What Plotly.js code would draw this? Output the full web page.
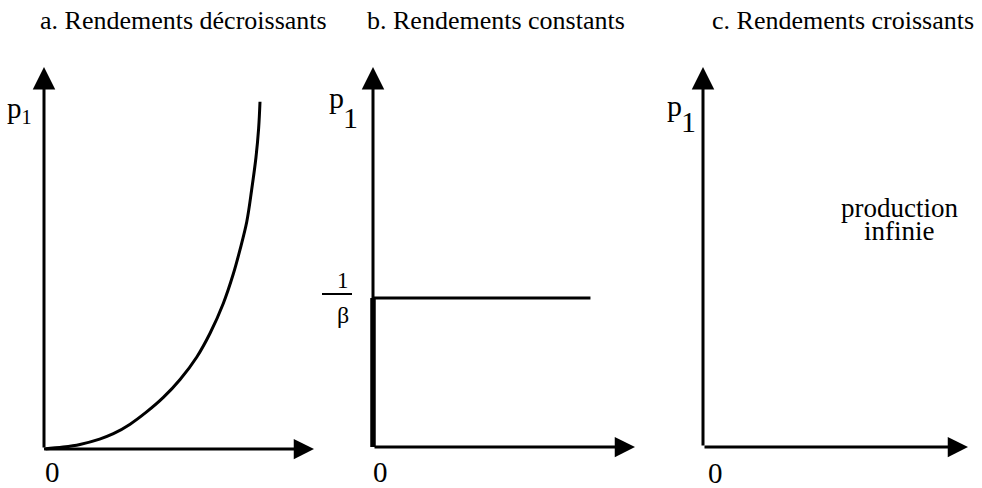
<!DOCTYPE html>
<html>
<head>
<meta charset="utf-8">
<script src="https://cdn.plot.ly/plotly-3.0.1.min.js"></script>
<style>html,body{margin:0;padding:0;background:#fff;}</style>
</head>
<body>
<div id="chart" style="width:982px;height:488px;"></div>
<script>
// Supply of good 1 as a function of its price p1, under three kinds of returns.
// Quantity runs along the horizontal axis, price p1 up the vertical one (both 0..10).

// a. decreasing returns: convex supply curve
const decrQ = [0, 0.71, 1.33, 2.06, 2.57, 3.19, 3.80, 4.42, 5.04, 5.66, 6.15, 6.64, 7.01, 7.26, 7.51, 7.69, 7.85, 7.95, 8.00];
const decrP = [0, 0.05, 0.12, 0.26, 0.40, 0.65, 0.97, 1.35, 1.82, 2.41, 3.03, 3.81, 4.58, 5.22, 5.95, 6.78, 7.63, 8.40, 9.09];

// b. constant returns: price fixed at 1/beta, zero output below it
const invBeta = 3.92;
const constQ = [0, 8.3];
const constP = [invBeta, invBeta];
const zeroQ = [0, 0];
const zeroP = [0, invBeta];

// axis length (arrow tip) in data units
const axisMax = 10;

const panelTitles = ['a. Rendements décroissants', 'b. Rendements constants', 'c. Rendements croissants'];
const priceLabel = 'p';
const priceIndex = '1';
const originLabel = '0';
const fracNum = '1';
const fracDen = 'β';
const infiniteLines = ['production', 'infinie'];

// ---- layout geometry (pixels) ----
const W = 982, H = 488;
const FONT = 'Liberation Serif, Times New Roman, serif';
const panels = [
  {left: 0,   right: 330, ox: 44,  oy: 449, tx: 314, ty: 67},
  {left: 335, right: 650, ox: 373, oy: 447, tx: 635, ty: 67},
  {left: 655, right: 982, ox: 703, oy: 447, tx: 968, ty: 67}
];

const layout = {
  width: W, height: H,
  margin: {l: 0, r: 0, t: 0, b: 0, pad: 0},
  paper_bgcolor: '#fff', plot_bgcolor: 'rgba(0,0,0,0)',
  showlegend: false,
  font: {family: FONT, color: '#000'},
  annotations: [],
  shapes: []
};

panels.forEach((p, i) => {
  const n = i === 0 ? '' : String(i + 1);
  const sx = axisMax / (p.tx - p.ox);
  const sy = axisMax / (p.oy - p.ty);
  layout['xaxis' + n] = {
    domain: [p.left / W, p.right / W],
    range: [(p.left - p.ox) * sx, (p.right - p.ox) * sx],
    visible: false, fixedrange: true, anchor: 'y' + n
  };
  layout['yaxis' + n] = {
    domain: [0, 1],
    range: [(p.oy - H) * sy, p.oy * sy],
    visible: false, fixedrange: true, anchor: 'x' + n
  };
  // the two axes with arrowheads
  const arrow = {
    xref: 'x' + n, yref: 'y' + n, axref: 'x' + n, ayref: 'y' + n,
    text: '', showarrow: true, arrowhead: 2, arrowwidth: 3,
    arrowcolor: '#000', ax: 0, ay: 0
  };
  layout.annotations.push(Object.assign({}, arrow, {x: axisMax, y: 0, arrowsize: 1.35}));
  layout.annotations.push(Object.assign({}, arrow, {x: 0, y: axisMax, arrowsize: 1.5}));
});

function label(text, px, py, size, xanchor) {
  return {
    xref: 'paper', yref: 'paper', x: px / W, y: 1 - py / H,
    xanchor: xanchor || 'center', yanchor: 'middle',
    text: text, showarrow: false,
    font: {family: FONT, size: size, color: '#000'}
  };
}

// panel titles
layout.annotations.push(label(panelTitles[0], 183.5, 20, 26));
layout.annotations.push(label(panelTitles[1], 496, 20, 26));
layout.annotations.push(label(panelTitles[2], 842.5, 20, 26));

// price labels
layout.annotations.push(label(priceLabel + '<sub>' + priceIndex + '</sub>', 5, 110, 29, 'left'));
layout.annotations.push(label(priceLabel, 336, 98, 30));
layout.annotations.push(label(priceIndex, 350.5, 117.5, 30));
layout.annotations.push(label(priceLabel, 674, 105, 30));
layout.annotations.push(label(priceIndex, 688, 121.5, 30));

// origins
layout.annotations.push(label(originLabel, 52.5, 472, 29));
layout.annotations.push(label(originLabel, 380.5, 472, 29));
layout.annotations.push(label(originLabel, 715.5, 473, 29));

// 1/beta tick label
layout.annotations.push(label(fracNum, 342.5, 280.5, 23));
layout.annotations.push(label(fracDen, 342.5, 314.5, 24));
layout.shapes.push({
  type: 'line', xref: 'paper', yref: 'paper',
  x0: 322 / W, x1: 352 / W, y0: 1 - 294 / H, y1: 1 - 294 / H,
  line: {color: '#000', width: 2}
});

// increasing returns note
layout.annotations.push(label(infiniteLines[0], 899.5, 208, 27));
layout.annotations.push(label(infiniteLines[1], 898.5, 231, 27));

const line = (w) => ({color: '#000', width: w});
const data = [
  {x: decrQ, y: decrP, xaxis: 'x', yaxis: 'y', type: 'scatter', mode: 'lines',
   line: Object.assign(line(3), {shape: 'spline', smoothing: 1}), hoverinfo: 'skip'},
  {x: constQ, y: constP, xaxis: 'x2', yaxis: 'y2', type: 'scatter', mode: 'lines',
   line: line(3), hoverinfo: 'skip'},
  {x: zeroQ, y: zeroP, xaxis: 'x2', yaxis: 'y2', type: 'scatter', mode: 'lines',
   line: line(5.5), hoverinfo: 'skip'},
  {x: [], y: [], xaxis: 'x3', yaxis: 'y3', type: 'scatter', mode: 'lines', hoverinfo: 'skip'}
];

Plotly.newPlot('chart', data, layout, {displayModeBar: false, staticPlot: true});
</script>
</body>
</html>
